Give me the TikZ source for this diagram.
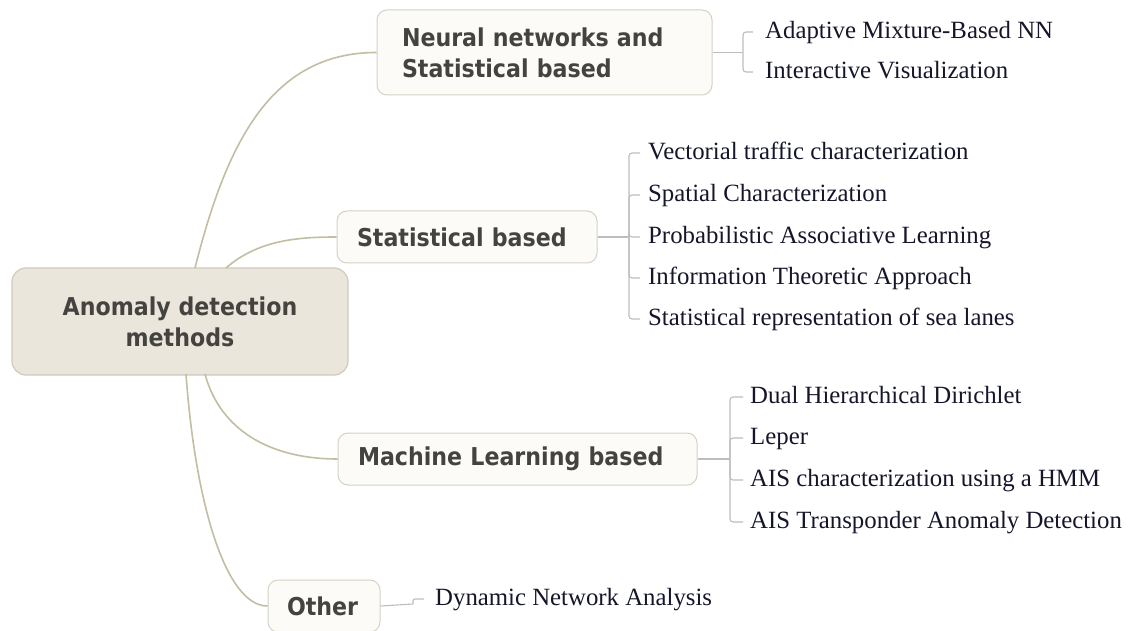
\documentclass[tikz,border=0pt]{standalone}
\usepackage{fontspec}
\setmainfont{Liberation Serif}
\newfontfamily\boxfont{DejaVu Sans}[FakeStretch=0.9]
\definecolor{rootfill}{HTML}{EAE6DC}
\definecolor{rootline}{HTML}{CFCABD}
\definecolor{topicfill}{HTML}{FCFBF8}
\definecolor{topicline}{HTML}{D5D1C6}
\definecolor{boxtext}{HTML}{45433F}
\definecolor{leaftext}{HTML}{16162A}
\definecolor{branchcol}{HTML}{C2BEA4}
\definecolor{bracketcol}{HTML}{BDBDBD}
\tikzset{
  rootbox/.style={draw=rootline, fill=rootfill, rounded corners=14pt, line width=1.2pt,
    minimum width=336pt, minimum height=107pt, align=center, inner sep=0pt,
    font=\boxfont\bfseries\fontsize{24.6}{31}\selectfont, text=boxtext},
  topic/.style={draw=topicline, fill=topicfill, rounded corners=10pt, line width=1pt,
    minimum height=52pt, inner xsep=20pt, inner ysep=0pt, align=left,
    font=\boxfont\bfseries\fontsize{24.6}{31}\selectfont, text=boxtext},
  leaf/.style={anchor=base west, inner sep=0pt, font=\fontsize{24.8}{28}\selectfont, text=leaftext},
  branch/.style={draw=branchcol, line width=1.6pt},
  bracket/.style={draw=bracketcol, line width=1.1pt, rounded corners=3pt}
}
\begin{document}
\begin{tikzpicture}[x=1pt,y=-1pt]
\useasboundingbox (0,0) rectangle (1133,631);
\clip (0,0) rectangle (1133,631);
\fill[white] (0,0) rectangle (1133,631);

% central topic
\node[rootbox] (root) at (180,321.5) {Anomaly detection\\methods};

% main branches
\node[topic, text width=285pt, inner xsep=25pt, minimum height=85pt] (nn) at (544.5,52.5)
  {Neural networks and\\Statistical based};
\node[topic, text width=220pt] (st) at (467,237) {Statistical based};
\node[topic, text width=319pt] (ml) at (517.5,459) {Machine Learning based};
\node[topic, text width=74pt, inner xsep=19pt] (ot) at (324,606) {Other};

% curved links from the central topic
\coordinate (r1) at (195,268);
\coordinate (r2) at (226,268);
\coordinate (r3) at (205,374);
\coordinate (r4) at (186,374);
\draw[branch] (r1) .. controls (226,145) and (270,52.5) .. (nn.west);
\draw[branch] (r2) .. controls (258,240) and (298,237) .. (st.west);
\draw[branch] (r3) .. controls (220,430) and (270,459) .. (ml.west);
\draw[branch] (r4) .. controls (195,500) and (225,606) .. (ot.west);

% leaves: Neural networks and Statistical based
\coordinate (bnn) at (743,52.5);
\coordinate (tnn1) at (753,32);
\coordinate (tnn2) at (753,72);
\node[leaf] (nn1) at (765,38.5) {Adaptive Mixture-Based NN};
\node[leaf] (nn2) at (765,78.5) {Interactive Visualization};
\draw[bracket] (nn.east) -- (bnn);
\draw[bracket] (bnn) |- (tnn1);
\draw[bracket] (bnn) |- (tnn2);

% leaves: Statistical based
\coordinate (bst) at (629,237);
\coordinate (tst1) at (640,153);
\coordinate (tst2) at (640,195);
\coordinate (tst3) at (640,237);
\coordinate (tst4) at (640,278);
\coordinate (tst5) at (640,319);
\node[leaf] (st1) at (648,159.5) {Vectorial traffic characterization};
\node[leaf] (st2) at (648,201.5) {Spatial Characterization};
\node[leaf] (st3) at (648,243.5) {Probabilistic Associative Learning};
\node[leaf] (st4) at (648,284.5) {Information Theoretic Approach};
\node[leaf] (st5) at (648,325.5) {Statistical representation of sea lanes};
\draw[bracket] (st.east) -- (bst);
\foreach \t in {tst1,tst2,tst3,tst4,tst5} \draw[bracket] (bst) |- (\t);

% leaves: Machine Learning based
\coordinate (bml) at (730,459);
\coordinate (tml1) at (743,397);
\coordinate (tml2) at (743,438);
\coordinate (tml3) at (743,480);
\coordinate (tml4) at (743,522);
\node[leaf] (ml1) at (750,403.5) {Dual Hierarchical Dirichlet};
\node[leaf] (ml2) at (750,444.5) {Leper};
\node[leaf] (ml3) at (750,486.5) {AIS characterization using a HMM};
\node[leaf] (ml4) at (750,528.5) {AIS Transponder Anomaly Detection};
\draw[bracket] (ml.east) -- (bml);
\foreach \t in {tml1,tml2,tml3,tml4} \draw[bracket] (bml) |- (\t);

% leaves: Other
\coordinate (bot) at (413,604);
\coordinate (tot1) at (424,599);
\node[leaf] (ot1) at (435,605.5) {Dynamic Network Analysis};
\draw[bracket] (ot.east) -- (bot);
\draw[bracket, rounded corners=2pt] (bot) |- (tot1);
\end{tikzpicture}
\end{document}
